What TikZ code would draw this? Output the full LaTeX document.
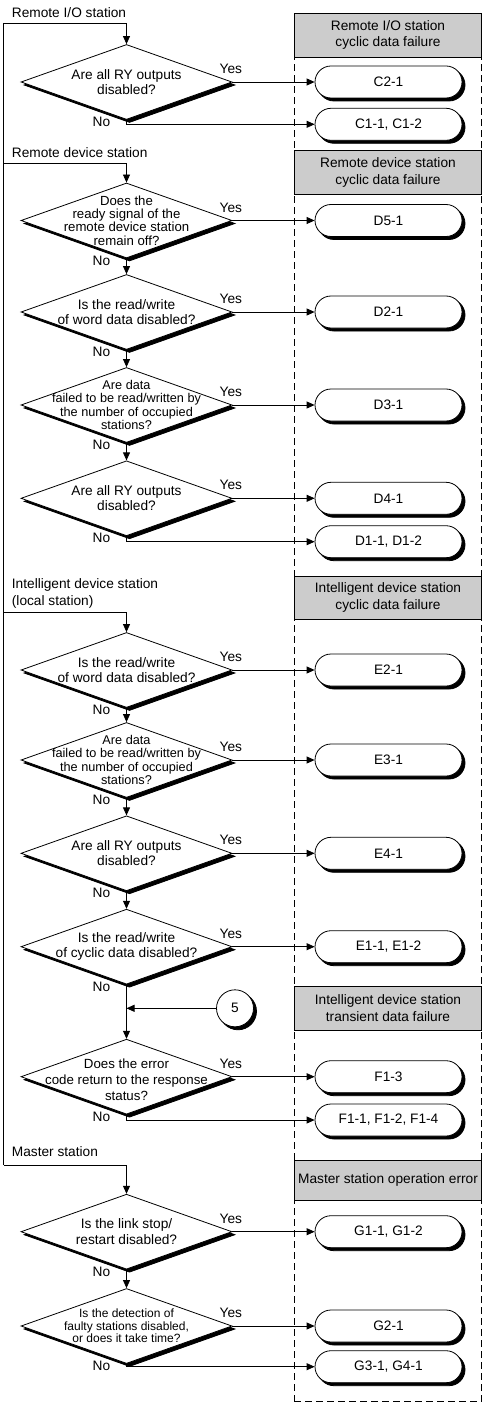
\documentclass[tikz,border=0pt]{standalone}
\usepackage{fontspec}
\setmainfont{Liberation Sans}
\usetikzlibrary{shapes.geometric,shapes.misc,shadows,arrows.meta}
\begin{document}
\begin{tikzpicture}[x=1pt,y=-1pt,line width=0.8pt,
  txt/.style={font=\fontsize{13.7}{15.3}\selectfont, inner sep=0pt, align=center},
  sh/.style={copy shadow={shadow xshift=3pt, shadow yshift=-3pt, fill=black, draw=black}},
  dec/.style={diamond, draw, fill=white, minimum width=211pt, minimum height=75pt, inner sep=0pt, sh},
  term/.style={rounded rectangle, draw, fill=white, minimum width=147pt, minimum height=32pt, inner sep=0pt, txt, sh},
  hdr/.style={rectangle, draw, fill=gray!40, minimum width=187.5pt, minimum height=44pt, inner sep=0pt, txt, font=\fontsize{13.7}{16.5}\selectfont},
  conn/.style={circle, draw, fill=white, minimum size=37pt, inner sep=0pt, txt, sh},
  arr/.style={-{Triangle[length=8pt,width=7pt]}},
  lbl/.style={txt, anchor=west, align=left},
  frame/.style={draw, dash pattern=on 7pt off 4pt, minimum width=187.5pt, minimum height=1388.7pt, inner sep=0pt},
]
\useasboundingbox (0,0) rectangle (485,1404);
% frame and headers
\node[frame] (fr) at (388,707.35) {};
\node[hdr] (h1) at (388,35) {Remote I/O station\\cyclic data failure};
\node[hdr, minimum height=43.3pt] (h2) at (388,172.3) {Remote device station\\cyclic data failure};
\node[hdr, minimum height=43.3pt] (h3) at (388,597.7) {Intelligent device station\\cyclic data failure};
\node[hdr, minimum height=43.3pt] (h4) at (388,1008.3) {Intelligent device station\\transient data failure};
\node[hdr, minimum height=40pt] (h5) at (388,1180) {Master station operation error};

% left labels
\node[lbl] (lA) at (11.5,13) {Remote I/O station};
\node[lbl] (lB) at (11.5,152.7) {Remote device station};
\node[lbl, font=\fontsize{13.7}{16.7}\selectfont] (lC) at (11.5,593.3) {Intelligent device station\\(local station)};
\node[lbl] (lD) at (11.5,1151.7) {Master station};

% bus coordinates
\coordinate (bA) at (3.5,23);
\coordinate (bB) at (3.5,163.3);
\coordinate (bC) at (3.5,612.7);
\coordinate (bD) at (3.5,1165);

% decisions
\node[dec] (dA1) at (126.5,82) {};
\node[dec] (dB1) at (126.5,220.5) {};
\node[dec] (dB2) at (126.5,312) {};
\node[dec] (dB3) at (126.5,405) {};
\node[dec] (dB4) at (126.5,498.3) {};
\node[dec] (dC1) at (126.5,670) {};
\node[dec] (dC2) at (126.5,760) {};
\node[dec] (dC3) at (126.5,853.3) {};
\node[dec] (dC4) at (126.5,946.7) {};
\node[dec] (dD1) at (126.5,1076.7) {};
\node[dec] (dE1) at (126.5,1231.7) {};
\node[dec] (dE2) at (126.5,1326) {};

\node[txt] (tA1) at (dA1) {Are all RY outputs\\disabled?};
\node[txt, font=\fontsize{13.2}{13.2}\selectfont] (tB1) at (dB1) {Does the\\ready signal of the\\remote device station\\remain off?};
\node[txt] (tB2) at (dB2) {Is the read/write\\of word data disabled?};
\node[txt, font=\fontsize{12.7}{13.3}\selectfont] (tB3) at (dB3) {Are data\\failed to be read/written by\\the number of occupied\\stations?};
\node[txt] (tB4) at (dB4) {Are all RY outputs\\disabled?};
\node[txt] (tC1) at (dC1) {Is the read/write\\of word data disabled?};
\node[txt, font=\fontsize{12.7}{13.3}\selectfont] (tC2) at (dC2) {Are data\\failed to be read/written by\\the number of occupied\\stations?};
\node[txt] (tC3) at (dC3) {Are all RY outputs\\disabled?};
\node[txt] (tC4) at (dC4) {Is the read/write\\of cyclic data disabled?};
\node[txt, font=\fontsize{13.3}{16.3}\selectfont] (tD1) at ([yshift=-3pt]dD1) {Does the error\\code return to the response\\status?};
\node[txt] (tE1) at (dE1) {Is the link stop/\\restart disabled?};
\node[txt, font=\fontsize{12}{12.4}\selectfont] (tE2) at (dE2) {Is the detection of\\faulty stations disabled,\\or does it take time?};

% terminators
\node[term] (rC21) at (388.5,82) {C2-1};
\node[term] (rC11) at (388.5,124.3) {C1-1, C1-2};
\node[term] (rD51) at (388.5,220.5) {D5-1};
\node[term] (rD21) at (388.5,312) {D2-1};
\node[term] (rD31) at (388.5,405) {D3-1};
\node[term] (rD41) at (388.5,498.3) {D4-1};
\node[term] (rD11) at (388.5,541.7) {D1-1, D1-2};
\node[term] (rE21) at (388.5,670) {E2-1};
\node[term] (rE31) at (388.5,760) {E3-1};
\node[term] (rE41) at (388.5,853.3) {E4-1};
\node[term] (rE11) at (388.5,946.7) {E1-1, E1-2};
\node[term] (rF13) at (388.5,1076.7) {F1-3};
\node[term] (rF11) at (388.5,1120) {F1-1, F1-2, F1-4};
\node[term] (rG11) at (388.5,1231.7) {G1-1, G1-2};
\node[term] (rG21) at (388.5,1326) {G2-1};
\node[term] (rG31) at (388.5,1366.7) {G3-1, G4-1};

% connector 5
\node[conn] (c5) at (235,1008.3) {5};
\coordinate (j5) at (126.5,1008.3);

% bus
\draw (bA) -- (bD);
\draw[arr] (bA) -| (dA1.north);
\draw[arr] (bB) -| (dB1.north);
\draw[arr] (bC) -| (dC1.north);
\draw[arr] (bD) -| (dE1.north);

% yes arrows
\foreach \d/\r in {dA1/rC21,dB1/rD51,dB2/rD21,dB3/rD31,dB4/rD41,dC1/rE21,dC2/rE31,dC3/rE41,dC4/rE11,dD1/rF13,dE1/rG11,dE2/rG21}{
  \draw[arr] (\d.east) -- (\r.west);
}
% no arrows (down)
\foreach \a/\b in {dB1/dB2,dB2/dB3,dB3/dB4,dC1/dC2,dC2/dC3,dC3/dC4,dC4/dD1,dE1/dE2}{
  \draw[arr] (\a.south) -- (\b.north);
}
% no arrows (right)
\foreach \d/\r in {dA1/rC11,dB4/rD11,dD1/rF11,dE2/rG31}{
  \draw[arr] (\d.south) |- (\r.west);
}
\draw[arr] (c5.west) -- (j5);

% yes / no labels
\foreach \d in {dA1,dB1,dB2,dB3,dB4,dC1,dC2,dC3,dC4,dD1,dE1,dE2}{
  \node[txt] (y\d) at ([xshift=-1.5pt,yshift=13pt]\d.east) {Yes};
  \node[txt] (n\d) at ([xshift=-25pt,yshift=-2pt]\d.south) {No};
}
\end{tikzpicture}
\end{document}
